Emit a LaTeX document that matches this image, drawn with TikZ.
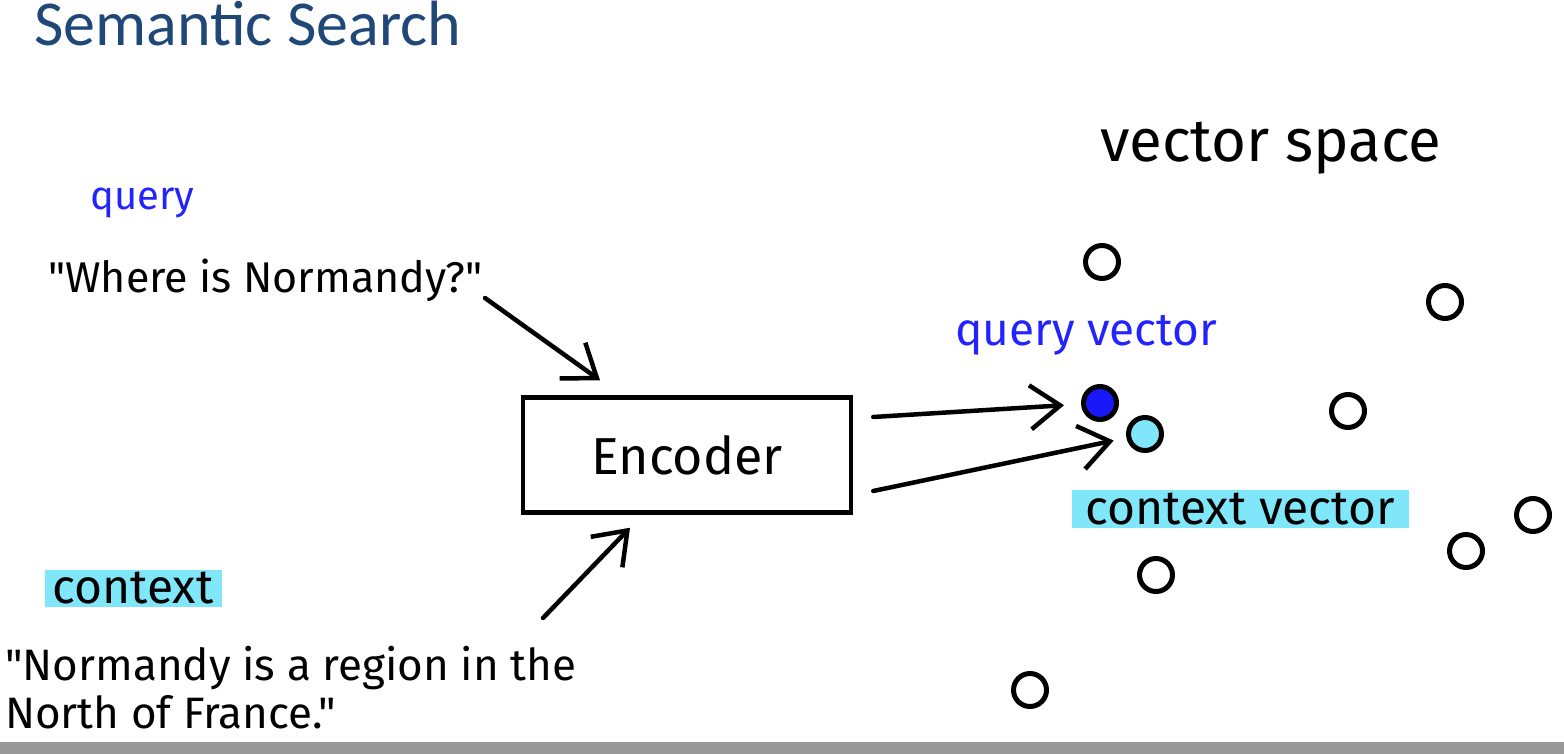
\documentclass[tikz,border=0pt]{standalone}
\usepackage{fontspec}
\setmainfont{Carlito}
\newfontfamily\hand{Fira Sans}
\usepackage{tikz}
\usetikzlibrary{positioning,arrows.meta,calc}

\definecolor{titleblue}{RGB}{31,71,120}
\definecolor{penblue}{RGB}{35,35,255}
\definecolor{dotblue}{RGB}{24,24,250}
\definecolor{hilite}{RGB}{128,230,249}
\definecolor{barg}{RGB}{153,153,153}

\begin{document}
\begin{tikzpicture}[
  x=1pt, y=-1pt,
  every node/.style={font=\hand, inner sep=0pt},
  handtext/.style={font=\hand\fontsize{#1}{48}\selectfont},
  bluetext/.style={font=\hand\fontsize{#1}{48}\selectfont, text=penblue},
  marker/.style={fill=hilite, font=\hand\fontsize{48}{48}\selectfont},
  vec/.style={circle, draw=black, line width=5pt, minimum size=33pt},
  arr/.style={line width=4.5pt, line cap=round,
    -{Straight Barb[length=30pt,width=44pt,line width=4.5pt]}}]
  \useasboundingbox (0,0) rectangle (1564,754);
  \fill[barg] (0,742) rectangle (1564,754);

  \node[anchor=base west, text=titleblue, font=\fontsize{64}{66}\selectfont] (title) at (34,46) {Semantic Search};
  \node[handtext=60, anchor=base west] (space) at (1100,162) {vector space};

  % query side
  \node[bluetext=40, anchor=base west] (qlabel) at (90,210) {query};
  \node[handtext=43, anchor=base west] (qtext) at (48,292) {"Where is Normandy?"};

  % context side
  \node[marker, minimum width=177pt, minimum height=37pt] (clabel) at (133,588) {context};
  \node[handtext=44, anchor=north west, align=left] (ctext) at (5,646)
    {"Normandy is a region in the\\North of France."};

  \node[draw, line width=4.5pt, minimum width=328pt, minimum height=115pt,
        font=\hand\fontsize{52}{52}\selectfont] (enc) at (687,455) {Encoder};

  % vectors
  \node[vec, fill=dotblue] (qdot) at (1100,403) {};
  \node[vec, fill=hilite] (cdot) at (1145,434) {};
  \node[bluetext=46, anchor=base west] (qvlabel) at (955,345) {query vector};
  \node[marker, minimum width=337pt, minimum height=38pt] (cvlabel) at (1240,509) {context vector};

  \node[vec] (p1) at (1102,262) {};
  \node[vec] (p2) at (1445,302) {};
  \node[vec] (p3) at (1348,411) {};
  \node[vec] (p4) at (1533,515) {};
  \node[vec] (p5) at (1466,551) {};
  \node[vec] (p6) at (1156,575) {};
  \node[vec] (p7) at (1030,690) {};

  \coordinate (qtail) at (485,298);
  \coordinate (ctail) at (543,618);
  \draw[arr] (qtail) -- ([xshift=-87pt,yshift=15pt]enc.north);
  \draw[arr] (ctail) -- ([xshift=-57pt,yshift=-13pt]enc.south);
  \draw[arr, shorten >=17pt] ([xshift=20pt,yshift=38pt]enc.east) -- (qdot);
  \draw[arr, shorten >=13pt] ([xshift=20pt,yshift=-36pt]enc.east) -- (cdot);
\end{tikzpicture}
\end{document}
